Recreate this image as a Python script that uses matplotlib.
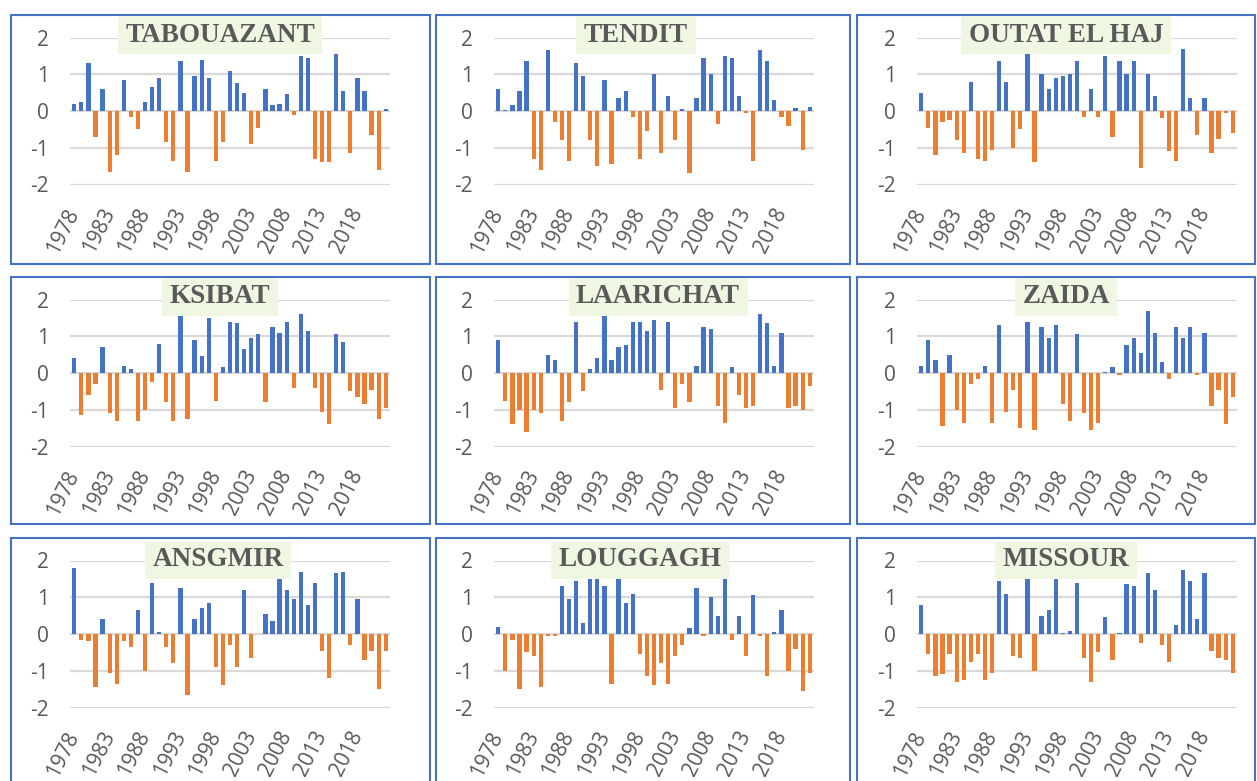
import numpy as np
import matplotlib.pyplot as plt
import matplotlib.transforms as mtransforms
from matplotlib.patches import Rectangle

years = list(range(1978, 2023))
tick_years = list(range(1978, 2019, 5))

stations = ["TABOUAZANT", "TENDIT", "OUTAT EL HAJ",
            "KSIBAT", "LAARICHAT", "ZAIDA",
            "ANSGMIR", "LOUGGAGH", "MISSOUR"]

tabouazant = [0.2, 0.25, 1.3, -0.7, 0.6, -1.65, -1.2, 0.85, -0.15, -0.5,
              0.25, 0.65, 0.9, -0.85, -1.35, 1.35, -1.65, 0.95, 1.4, 0.9,
              -1.35, -0.85, 1.1, 0.75, 0.5, -0.9, -0.45, 0.6, 0.15, 0.2,
              0.45, -0.1, 1.5, 1.45, -1.3, -1.4, -1.4, 1.55, 0.55, -1.15,
              0.9, 0.55, -0.65, -1.6, 0.05]
tendit = [0.6, 0.02, 0.15, 0.55, 1.35, -1.3, -1.6, 1.65, -0.3, -0.8,
          -1.35, 1.3, 0.95, -0.8, -1.5, 0.85, -1.45, 0.35, 0.55, -0.15,
          -1.3, -0.55, 1.0, -1.15, 0.4, -0.8, 0.05, -1.7, 0.35, 1.45,
          1.0, -0.35, 1.5, 1.45, 0.4, -0.05, -1.35, 1.65, 1.35, 0.3,
          -0.15, -0.4, 0.08, -1.05, 0.12]
outat_el_haj = [0.5, -0.45, -1.2, -0.3, -0.25, -0.8, -1.15, 0.8, -1.3, -1.35,
                -1.05, 1.35, 0.8, -1.0, -0.5, 1.65, -1.4, 1.0, 0.6, 0.9,
                0.95, 1.0, 1.35, -0.15, 0.6, -0.15, 1.5, -0.7, 1.35, 1.0,
                1.35, -1.55, 1.0, 0.4, -0.2, -1.1, -1.35, 1.7, 0.35, -0.65,
                0.35, -1.15, -0.75, -0.05, -0.6]
ksibat = [0.4, -1.15, -0.6, -0.3, 0.7, -1.1, -1.3, 0.2, 0.1, -1.3,
          -1.0, -0.25, 0.8, -0.8, -1.3, 1.65, -1.25, 0.9, 0.45, 1.5,
          -0.75, 0.15, 1.4, 1.35, 0.65, 0.95, 1.05, -0.8, 1.25, 1.1,
          1.4, -0.4, 1.6, 1.15, -0.4, -1.05, -1.4, 1.05, 0.85, -0.5,
          -0.65, -0.85, -0.45, -1.25, -0.95]
laarichat = [0.9, -0.75, -1.4, -1.0, -1.6, -1.0, -1.1, 0.5, 0.35, -1.3,
             -0.8, 1.4, -0.5, 0.1, 0.4, 1.6, 0.35, 0.7, 0.75, 1.4,
             1.4, 1.15, 1.45, -0.45, 1.4, -0.95, -0.3, -0.8, 0.2, 1.25,
             1.2, -0.9, -1.35, 0.15, -0.6, -0.95, -0.9, 1.6, 1.35, 0.2,
             1.1, -0.95, -0.9, -1.0, -0.35]
zaida = [0.2, 0.9, 0.35, -1.45, 0.5, -1.0, -1.35, -0.3, -0.15, 0.2,
         -1.35, 1.3, -1.05, -0.45, -1.5, 1.4, -1.55, 1.25, 0.95, 1.3,
         -0.85, -1.3, 1.05, -1.1, -1.55, -1.35, 0.02, 0.15, -0.05, 0.75,
         0.95, 0.55, 1.7, 1.1, 0.3, -0.15, 1.25, 0.95, 1.25, -0.05,
         1.1, -0.9, -0.45, -1.4, -0.65]
ansgmir = [1.8, -0.15, -0.2, -1.45, 0.4, -1.05, -1.35, -0.2, -0.35, 0.65,
           -1.0, 1.4, 0.05, -0.35, -0.8, 1.25, -1.65, 0.4, 0.7, 0.85,
           -0.9, -1.4, -0.3, -0.9, 1.2, -0.65, 0.0, 0.55, 0.35, 1.5,
           1.2, 0.95, 1.7, 0.8, 1.4, -0.45, -1.2, 1.65, 1.7, -0.3,
           0.95, -0.7, -0.45, -1.5, -0.45]
louggagh = [0.2, -1.0, -0.15, -1.5, -0.5, -0.6, -1.45, -0.05, -0.05, 1.3,
            0.95, 1.45, 0.3, 1.8, 1.7, 1.3, -1.35, 1.75, 0.85, 1.1,
            -0.55, -1.15, -1.4, -0.8, -1.35, -0.6, -0.3, 0.15, 1.25, -0.05,
            1.0, 0.5, 1.7, -0.15, 0.5, -0.6, 1.05, -0.05, -1.15, 0.05,
            0.65, -1.0, -0.4, -1.55, -1.05]
missour = [0.8, -0.55, -1.15, -1.1, -0.55, -1.3, -1.25, -0.75, -0.55, -1.25,
           -1.05, 1.45, 1.1, -0.6, -0.65, 1.5, -1.0, 0.5, 0.65, 1.7,
           0.02, 0.08, 1.4, -0.65, -1.3, -0.5, 0.45, -0.7, 0.02, 1.35,
           1.3, -0.25, 1.65, 1.2, -0.3, -0.75, 0.25, 1.75, 1.45, 0.4,
           1.65, -0.45, -0.65, -0.7, -1.05]

series = [tabouazant, tendit, outat_el_haj,
          ksibat, laarichat, zaida,
          ansgmir, louggagh, missour]

W, H = 1257, 781
BLUE = "#4472C4"
ORANGE = "#ED7D31"
GREY = "#595959"

# panel geometry in pixels (top-left origin)
panel_left = [11, 436, 857]
panel_right = [430, 850, 1255]
panel_top = [15, 277, 538]
panel_bottom = [264, 524, 795]
plot_left = [70, 494, 917]
title_x = [[220, 636, 1066], [220, 658, 1066], [218, 640, 1066]]
title_y = [35, 297, 560]


def fx(x):
    return x / W


def fy(y):
    return 1 - y / H


plt.rcParams['font.family'] = ['Open Sans', 'DejaVu Sans']
fig = plt.figure(figsize=(W / 100, H / 100), dpi=100)
fig.patch.set_facecolor("white")

# nudge rotated year labels a few pixels to the right
shift = mtransforms.ScaledTranslation(10 / 100, 0, fig.dpi_scale_trans)

x = np.arange(len(years))
titles = []
for k, name in enumerate(stations):
    r, c = divmod(k, 3)
    vals = np.array(series[k])

    # plot area: y=2 at top+22.5, y=-2 at top+169.5
    top = panel_top[r] + 22.5
    ax = fig.add_axes([fx(plot_left[c]), fy(top + 147), 320 / W, 147 / H])
    ax.set_facecolor("none")
    for g in [-2, -1, 0, 1, 2]:
        ax.axhline(g, color="#D9D9D9", lw=1.6, zorder=0)
    colors = [BLUE if v > 0 else ORANGE for v in vals]
    ax.bar(x, vals, width=0.6, color=colors, zorder=2)
    ax.set_ylim(-2, 2)
    ax.set_xlim(-0.6, len(years) - 0.4)
    for s in ax.spines.values():
        s.set_visible(False)
    ax.set_yticks([-2, -1, 0, 1, 2])
    ax.set_yticklabels(["-2", "-1", "0", "1", "2"], color=GREY, fontsize=15)
    tick_idx = [years.index(t) for t in tick_years]
    ax.set_xticks(tick_idx)
    ax.set_xticklabels([str(t) for t in tick_years], rotation=63, ha="right",
                       va="center", rotation_mode="anchor", color=GREY,
                       fontsize=15)
    for lbl in ax.get_xticklabels():
        lbl.set_transform(lbl.get_transform() + shift)
    ax.tick_params(axis="y", length=0, pad=15)
    ax.tick_params(axis="x", length=0, pad=18)

    # panel border
    fig.add_artist(Rectangle((fx(panel_left[c]), fy(panel_bottom[r])),
                             (panel_right[c] - panel_left[c]) / W,
                             (panel_bottom[r] - panel_top[r]) / H,
                             transform=fig.transFigure, fill=False,
                             edgecolor=BLUE, lw=1.5, zorder=5))

    t = fig.text(fx(title_x[r][c]), fy(title_y[r]), name, ha="center",
                 va="center", family="Liberation Serif", weight="bold",
                 fontsize=19.5, color=GREY, zorder=7)
    titles.append(t)

# light green box behind each station name
fig.canvas.draw()
renderer = fig.canvas.get_renderer()
for k, t in enumerate(titles):
    r, c = divmod(k, 3)
    w = t.get_window_extent(renderer).width + 15
    h = 37
    fig.add_artist(Rectangle((fx(title_x[r][c] - w / 2), fy(title_y[r] + h / 2)),
                             w / W, h / H, transform=fig.transFigure,
                             facecolor="#EFF7E3", edgecolor="none", zorder=6))

fig.savefig("out.png", dpi=100)
